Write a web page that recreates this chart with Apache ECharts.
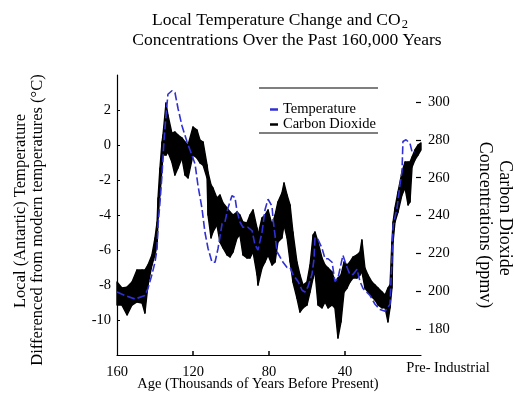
<!DOCTYPE html>
<html>
<head>
<meta charset="utf-8">
<script src="https://cdn.jsdelivr.net/npm/echarts@6/dist/echarts.min.js"></script>
<style>
  html, body { margin: 0; padding: 0; background: #fff; }
  #chart { width: 515px; height: 395px; }
</style>
</head>
<body>
<div id="chart"></div>
<script>
// Vostok ice core: local temperature anomaly (°C) by age (thousands of years before present)
const tempAge = [160,155.8,150.5,145.3,143.7,141.6,140,138.9,138.4,137.4,
  136.3,135.3,134.2,133.2,131.1,129.5,127.9,125.8,123.2,120.5,
  118.9,117.4,115.3,113.7,112.1,110,108.4,106.8,104.7,103.2,
  101.6,99.5,97.9,96.8,95.3,93.7,91.1,88.9,87.4,85.8,
  83.7,82.1,80.5,78.4,77.9,75.8,74.2,72.6,70.5,68.9,
  67.4,64.7,62.6,61.1,59.5,57.4,56.3,55.8,54.2,52.1,
  50.5,48.9,46.8,45.3,43.7,41.1,38.9,37.4,35.8,33.7,
  32.1,30.5,26.8,24.2,21.6,18.9,16.3,15.3,14.7,12.6,
  11.1,10,9.5,7.9,5.8,4.7,3.2];
const tempValue = [-8.4,-8.6,-8.8,-8.6,-8.2,-7.4,-6.7,-5.9,-4.6,-3.3,
  -1.7,0.2,1.7,2.9,3.1,3.0,2.1,1.1,0.2,-0.6,
  -1.1,-2.3,-3.6,-5.0,-5.9,-6.7,-6.7,-5.9,-4.5,-4.4,
  -3.6,-2.9,-3.0,-3.8,-4.4,-4.7,-4.7,-4.9,-5.7,-6.0,
  -5.0,-3.7,-3.1,-3.5,-4.2,-6.1,-6.4,-6.7,-7.0,-7.0,
  -7.4,-7.8,-8.3,-8.4,-8.1,-7.4,-6.5,-5.3,-5.4,-5.9,
  -6.5,-6.5,-6.7,-7.8,-7.6,-6.3,-7.0,-7.4,-7.4,-7.1,
  -7.8,-8.2,-8.6,-9.1,-9.4,-9.5,-9.1,-6.5,-4.6,-3.6,
  -2.3,-1.5,0.2,0.3,0.1,-0.4,-0.4];

// CO2 concentration envelope (ppmv): upper and lower bounds of the measured band
const co2Age = [160,157.4,154.7,152.1,149.5,146.8,145.3,143.7,141.6,140,
  138.9,138.4,137.4,136.3,135.8,134.2,133.2,131.1,129.5,127.9,
  125.8,124.2,122.6,120,117.9,116.3,114.7,112.6,112.1,110.5,
  109.5,107.4,105.8,104.2,102.1,100.5,98.9,96.8,95.3,93.7,
  91.6,90,88.4,86.3,85.8,83.7,82.1,80.5,78.4,76.8,
  75.3,73.2,72.1,70.5,68.9,67.4,65.3,63.7,62.1,60,
  58.4,56.8,55.8,54.2,52.1,50.5,48.9,46.8,45.3,43.7,
  42.1,40.5,38.9,37.4,35.8,33.7,32.1,31.1,29.5,27.9,
  25.8,24.2,22.6,20.5,18.9,17.4,16.3,15.3,14.7,13.7,
  12.1,10,8.4,6.8,5.8,4.7,3.2,1.6,0];
const co2High = [204.9,201.7,202.2,204.9,211.2,211.2,211.2,213.9,219.2,228.2,
  236.6,249.3,265.1,278.9,282.6,299.5,293.2,283.6,284.2,282.6,
  281.0,278.9,277.3,286.8,285.2,279.9,278.9,266.7,263.0,256.2,
  254.6,249.3,250.9,246.7,244.0,241.9,240.3,241.9,240.3,236.6,
  236.1,240.3,243.0,233.4,229.7,238.7,240.3,243.0,235.0,240.3,
  247.2,251.9,257.2,250.9,245.6,231.3,215.5,208.6,203.3,204.9,
  213.9,229.7,231.3,226.0,217.6,213.9,212.3,210.2,204.9,207.0,
  208.6,215.5,213.9,215.5,218.1,219.2,220.8,227.1,212.3,208.6,
  204.9,203.3,201.7,199.6,198.0,201.7,203.3,226.0,236.6,244.0,
  252.5,263.0,268.3,268.3,268.3,271.0,274.7,277.3,278.4];
const co2Low = [192.7,192.7,187.5,192.7,194.3,193.8,188.5,203.3,213.9,219.2,
  224.5,238.7,250.9,265.1,272.0,272.0,273.6,268.3,261.4,265.1,
  270.4,261.4,259.9,272.0,270.4,267.8,266.7,259.9,240.3,228.2,
  231.3,235.0,226.0,222.9,219.2,218.1,220.8,228.2,229.7,219.2,
  217.6,217.6,220.8,208.6,203.3,212.3,215.5,219.2,213.9,215.5,
  226.0,228.2,235.0,228.2,215.5,204.9,196.4,189.0,191.2,192.7,
  199.6,207.0,210.2,192.7,191.2,194.3,191.2,192.7,191.2,175.3,
  183.8,199.6,201.7,204.9,207.0,207.0,208.6,210.2,201.7,199.6,
  197.0,195.4,192.7,191.2,191.2,183.8,191.2,201.7,226.0,236.6,
  241.9,250.9,254.6,245.6,247.2,265.7,269.4,272.0,274.7];

// Axis ticks
const ageTicks = [160, 120, 80, 40];
const tempTicks = [-10, -8, -6, -4, -2, 0, 2];
const co2Ticks = [180, 200, 220, 240, 260, 280, 300];

const SERIF = "'Liberation Serif', 'DejaVu Serif', serif";
const BLUE = '#3030d4';

const tempData = tempAge.map((a, i) => [a, tempValue[i]]);
const co2Data = co2Age.map((a, i) => [a, co2High[i], co2Low[i]]);

// Each item paints the band segment between itself and the next sample
function renderBand(params, api) {
  const i = params.dataIndex;
  if (i >= co2Age.length - 1) return null;
  const p1 = api.coord([co2Age[i], co2High[i]]);
  const p2 = api.coord([co2Age[i + 1], co2High[i + 1]]);
  const p3 = api.coord([co2Age[i + 1], co2Low[i + 1]]);
  const p4 = api.coord([co2Age[i], co2Low[i]]);
  return {
    type: 'polygon',
    shape: { points: [p1, p2, p3, p4] },
    style: { fill: '#000', stroke: '#000', lineWidth: 1.4, lineJoin: 'round' }
  };
}

const chart = echarts.init(document.getElementById('chart'), null, { renderer: 'canvas' });

chart.setOption({
  animation: false,
  backgroundColor: '#fff',
  title: [
    {
      text: 'Local Temperature Change and CO{sub|2}',
      left: 275, top: 5, textAlign: 'center',
      textStyle: {
        fontFamily: SERIF, fontSize: 17.5, fontWeight: 'normal', color: '#000', lineHeight: 20,
        rich: { sub: { fontFamily: SERIF, fontSize: 12.5, color: '#000', padding: [9, 0, 0, 1] } }
      }
    },
    {
      text: 'Concentrations Over the Past 160,000 Years',
      left: 282, top: 25, textAlign: 'center',
      textStyle: { fontFamily: SERIF, fontSize: 17.5, fontWeight: 'normal', color: '#000', lineHeight: 20 }
    }
  ],
  legend: {
    data: ['Temperature', 'Carbon Dioxide'],
    orient: 'vertical',
    left: 265, top: 97,
    icon: 'rect',
    itemWidth: 8, itemHeight: 2.5,
    itemGap: 0,
    selectedMode: false,
    textStyle: { fontFamily: SERIF, fontSize: 14.5, color: '#000', lineHeight: 13 }
  },
  grid: { left: 117, right: 94, top: 75, bottom: 40, containLabel: false },
  xAxis: {
    type: 'value',
    min: 0, max: 160, inverse: true,
    axisLine: { onZero: false, lineStyle: { color: '#000', width: 1.2 } },
    axisTick: { inside: true, length: 4, customValues: [120, 80, 40], lineStyle: { color: '#000', width: 1.5 } },
    axisLabel: { customValues: ageTicks, margin: 10, fontFamily: SERIF, fontSize: 14.5, color: '#000' },
    splitLine: { show: false }
  },
  yAxis: [
    {
      type: 'value',
      min: -12, max: 4,
      axisLine: { show: true, onZero: false, lineStyle: { color: '#000', width: 1.2 } },
      axisTick: { show: true, inside: true, length: 3, customValues: tempTicks, lineStyle: { color: '#000' } },
      axisLabel: { customValues: tempTicks, margin: 6, fontFamily: SERIF, fontSize: 14.5, color: '#000' },
      splitLine: { show: false }
    },
    {
      type: 'value',
      min: 166.3, max: 314.3,
      position: 'right',
      axisLine: { show: false },
      axisTick: { show: true, inside: true, length: 5, customValues: co2Ticks, lineStyle: { color: '#000', width: 1.2 } },
      axisLabel: { customValues: co2Ticks, margin: 7, fontFamily: SERIF, fontSize: 14.5, color: '#000' },
      splitLine: { show: false }
    }
  ],
  series: [
    {
      name: 'Carbon Dioxide',
      type: 'custom',
      yAxisIndex: 1,
      coordinateSystem: 'cartesian2d',
      data: co2Data,
      encode: { x: 0, y: [1, 2] },
      renderItem: renderBand,
      color: '#000',
      itemStyle: { color: '#000' },
      z: 2
    },
    {
      name: 'Temperature',
      type: 'line',
      yAxisIndex: 0,
      data: tempData,
      symbol: 'none',
      color: BLUE,
      lineStyle: { color: BLUE, width: 1.6, type: [8, 3] },
      z: 3
    }
  ],
  graphic: [
    { type: 'line', shape: { x1: 259, y1: 88, x2: 378, y2: 88 }, style: { stroke: '#000', lineWidth: 1.2 } },
    { type: 'line', shape: { x1: 259, y1: 133, x2: 378, y2: 133 }, style: { stroke: '#000', lineWidth: 1.2 } },
    {
      type: 'text', x: 21, y: 211, rotation: Math.PI / 2,
      style: { text: 'Local (Antartic) Temperature', fontFamily: SERIF, fontSize: 16.5, fill: '#000', align: 'center', verticalAlign: 'middle' }
    },
    {
      type: 'text', x: 38, y: 220, rotation: Math.PI / 2,
      style: { text: 'Differenced from modern temperatures (°C)', fontFamily: SERIF, fontSize: 16.5, fill: '#000', align: 'center', verticalAlign: 'middle' }
    },
    {
      type: 'text', x: 505, y: 218, rotation: -Math.PI / 2,
      style: { text: 'Carbon Dioxide', fontFamily: SERIF, fontSize: 18, fill: '#000', align: 'center', verticalAlign: 'middle' }
    },
    {
      type: 'text', x: 485, y: 225, rotation: -Math.PI / 2,
      style: { text: 'Concentrations (ppmv)', fontFamily: SERIF, fontSize: 18, fill: '#000', align: 'center', verticalAlign: 'middle' }
    },
    {
      type: 'text', x: 258, y: 384,
      style: { text: 'Age (Thousands of Years Before Present)', fontFamily: SERIF, fontSize: 14.5, fill: '#000', align: 'center', verticalAlign: 'middle' }
    },
    {
      type: 'text', x: 448, y: 368,
      style: { text: 'Pre- Industrial', fontFamily: SERIF, fontSize: 14.5, fill: '#000', align: 'center', verticalAlign: 'middle' }
    }
  ]
});
</script>
</body>
</html>
